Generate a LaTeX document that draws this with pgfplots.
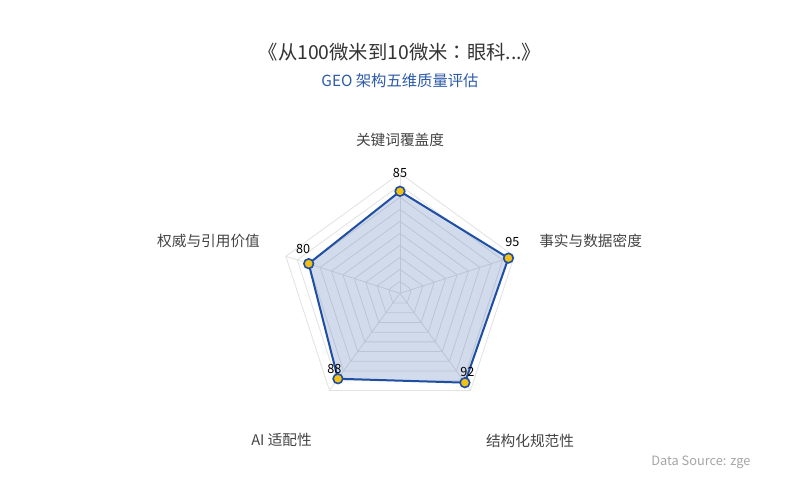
\documentclass[border=0pt]{standalone}
\usepackage{fontspec}
\setmainfont{Noto Sans CJK SC}
\newfontfamily\tcfont{Noto Sans CJK TC}
\usepackage{pgfplots}
\usepackage{pgfplotstable}
\pgfplotsset{compat=1.18}

\definecolor{lineblue}{HTML}{1F4FA3}
\definecolor{subblue}{HTML}{2D5BA8}
\definecolor{gold}{HTML}{F2C114}
\definecolor{gridc}{HTML}{E2E2E2}
\definecolor{txt}{HTML}{333333}
\definecolor{lbl}{HTML}{444444}

% angle (deg), score, label shift (px)
\pgfplotstableread{
ang  r   dx   dy
90   85  0    18
18   95  4    16
-54  92  2.5  10.5
-126 88  -3.5 9.5
162  80  -5.5 15
}\scores

\begin{document}
\begin{tikzpicture}[x=0.75pt,y=0.75pt]
\path[fill=white] (0,0) rectangle (800,500);

\node[txt, font=\fontsize{14.5}{16}\selectfont] at (400,448) {《从100微米到10微米{\tcfont ：}眼科...》};
\node[subblue, font=\fontsize{11.5}{13}\selectfont] at (400,419) {GEO 架构五维质量评估};

\begin{axis}[at={(300pt,155pt)}, anchor=center,
  x=0.9pt, y=0.9pt, xmin=-100, xmax=100, ymin=-100, ymax=100,
  hide axis, clip=false,
  /pgf/number format/assume math mode=true]
% rings
\pgfplotsinvokeforeach{10,20,...,100}{
  \addplot[gridc, line width=0.6pt, data cs=polar, forget plot]
    coordinates {(90,#1) (18,#1) (-54,#1) (-126,#1) (162,#1) (90,#1)};
}
% spokes
\pgfplotsinvokeforeach{90,18,-54,-126,162}{
  \addplot[gridc, line width=0.6pt, data cs=polar, forget plot]
    coordinates {(#1,0) (#1,100)};
}
% area
\addplot[draw=lineblue, line width=1.5pt, line join=round,
  fill=lineblue, fill opacity=0.2, draw opacity=1, data cs=polar]
  table[x=ang, y=r] {\scores} -- cycle;
% points and values
\addplot[only marks, data cs=polar,
  mark=*, mark size=3.6pt,
  mark options={fill=gold, draw=lineblue, line width=1.2pt},
  point meta=explicit,
  visualization depends on={\thisrow{dx} \as \lx},
  visualization depends on={\thisrow{dy} \as \ly},
  nodes near coords,
  nodes near coords style={anchor=center, black, inner sep=0pt,
    font=\fontsize{9.5}{10}\selectfont,
    xshift={\lx*0.75pt}, yshift={\ly*0.75pt}}]
  table[x=ang, y=r, meta=r] {\scores};
\end{axis}

\begin{scope}[lbl, font=\fontsize{11}{13}\selectfont, inner sep=0pt]
\node at (400,360) {关键词覆盖度};
\node[anchor=west] at (539,259.3) {事实与数据密度};
\node at (530,59.5) {结构化规范性};
\node at (281.5,60) {AI 适配性};
\node at (208.5,259.5) {权威与引用价值};
\end{scope}

\begin{scope}
\clip (600,20) rectangle (750,60);
\node[anchor=west, inner sep=0pt, color=black!35, font=\fontsize{9.6}{11}\selectfont]
  at (651,38) {Data Source: zgeo};
\end{scope}
\end{tikzpicture}
\end{document}
